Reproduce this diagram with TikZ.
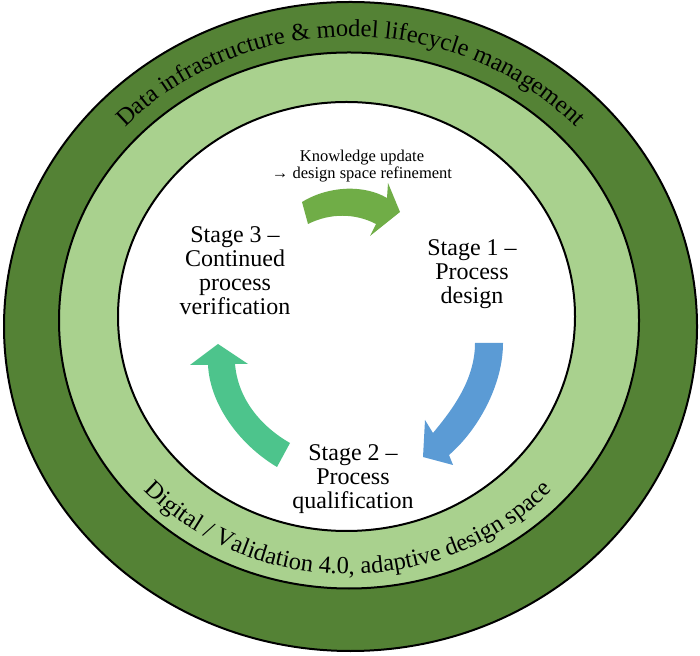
\documentclass[tikz,border=0pt]{standalone}
\usepackage{fontspec}
\setmainfont{Liberation Serif}
\usetikzlibrary{decorations.text}
\definecolor{darkring}{HTML}{548235}
\definecolor{lightring}{HTML}{A9D18E}
\definecolor{arrowgreen}{HTML}{70AD47}
\definecolor{arrowblue}{HTML}{5B9BD5}
\definecolor{arrowteal}{HTML}{4DC48C}
\begin{document}
\begin{tikzpicture}[x=1pt, y=1pt,
        ring/.style = {draw=black, line width=2pt},
        stage/.style = {align=center, inner sep=0pt, font=\fontsize{24}{24}\selectfont},
        ringtext/.style = {decorate, decoration={text along path, text align=center,
            text={|\fontsize{24.5}{25}\selectfont|#1}}}
    ]
        \useasboundingbox (0,0) rectangle (700,655);
        \draw[ring, fill=darkring] (350.5,328.5) ellipse [x radius=346.5, y radius=324.5];
        \draw[ring, fill=lightring] (349,334.5) ellipse [x radius=290, y radius=268];
        \draw[ring, fill=white] (346.5,338.5) ellipse [x radius=228.5, y radius=214.5];
        \path[ringtext={Data infrastructure {\&} model lifecycle management}]
            (40.5,328.5) arc [start angle=180, end angle=0, x radius=310, y radius=290];
        \path[ringtext={Digital / Validation 4.0, adaptive design space}]
            (73,334) arc [start angle=180, end angle=360, x radius=275, y radius=253];
        \fill[arrowgreen] (302,453) .. controls (330,470) and (365,470) .. (387,457)
            -- (388,472) -- (400,443) -- (370,419) -- (376,431)
            .. controls (355,442) and (330,442) .. (308,431) -- cycle;
        \fill[arrowblue] (503,312) .. controls (503,270) and (478,225) .. (449,200)
            -- (453,190) -- (423,198) -- (425,235) -- (433,222)
            .. controls (452,245) and (475,275) .. (475,312) -- cycle;
        \fill[arrowteal] (277,188) .. controls (240,210) and (210,250) .. (208,290)
            -- (190,290) -- (218,311) -- (248,291) -- (235,291)
            .. controls (238,255) and (262,228) .. (290,212) -- cycle;
        \node[align=center, inner sep=0pt, font=\fontsize{16.5}{17}\selectfont] (update)
            at (362,489) {Knowledge update\\→ design space refinement};
        \node[stage] (stage3) at (235,384) {Stage 3 –\\Continued\\process\\verification};
        \node[stage] (stage1) at (472,381) {Stage 1 –\\Process\\design};
        \node[stage] (stage2) at (353,175.5) {Stage 2 –\\Process\\qualification};
    \end{tikzpicture}
\end{document}
